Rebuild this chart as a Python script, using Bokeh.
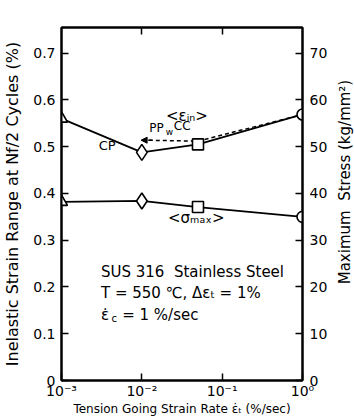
import math
from bokeh.plotting import figure
from bokeh.layouts import row
from bokeh.models import Range1d, LinearAxis, LogAxis, FixedTicker, Label, ColumnDataSource, Arrow, NormalHead
from bokeh.embed import file_html
from bokeh.resources import INLINE

# ---- data ----
rates = [1e-3, 1e-2, 5e-2, 1.0]
markers = ["triangle", "diamond", "square", "circle"]
strain_range = [0.560, 0.488, 0.505, 0.569]
max_stress = [38.2, 38.4, 37.1, 35.0]
pp_rates = [1e-2, 5e-2, 1e-1, 1.0]
pp_strain = [0.514, 0.512, 0.525, 0.569]

x_ticks = [1e-3, 1e-2, 1e-1, 1.0]
x_tick_labels = ["10⁻³", "10⁻²", "10⁻¹", "10⁰"]
left_ticks = [0, 0.1, 0.2, 0.3, 0.4, 0.5, 0.6, 0.7]
left_tick_labels = ["0", "0.1", "0.2", "0.3", "0.4", "0.5", "0.6", "0.7"]
right_ticks = [0, 10, 20, 30, 40, 50, 60, 70]
right_tick_labels = ["0", "10", "20", "30", "40", "50", "60", "70"]

# marker sizes (style)
marker_sizes = [12, 16, 11, 11]

FONT = "DejaVu Sans"
NB = "\u00a0"

p = figure(width=336, height=418, x_axis_type="log",
           x_range=Range1d(1e-3, 1.0), y_range=Range1d(0, 0.755),
           output_backend="svg", toolbar_location=None,
           min_border_left=59, min_border_right=34, min_border_top=27, min_border_bottom=36)
p.extra_y_ranges = {"stress": Range1d(0, 75.5)}
p.xgrid.visible = False
p.ygrid.visible = False
p.outline_line_color = "black"
p.outline_line_width = 2
p.background_fill_color = "white"
p.border_fill_color = "white"


def style_axis(ax):
    ax.axis_line_color = "black"
    ax.axis_line_width = 2
    ax.major_tick_in = 7
    ax.major_tick_out = 0
    ax.major_tick_line_width = 1.5
    ax.major_tick_line_color = "black"
    ax.minor_tick_line_color = None
    ax.major_label_text_font = FONT
    ax.major_label_text_font_size = "14px"
    ax.major_label_text_color = "black"
    ax.axis_label_text_font = FONT
    ax.axis_label_text_font_size = "12px"
    ax.axis_label_text_font_style = "normal"
    ax.axis_label_text_color = "black"


xa = p.xaxis[0]
style_axis(xa)
xa.ticker = FixedTicker(ticks=x_ticks)
xa.major_label_overrides = {t: l for t, l in zip(x_ticks, x_tick_labels)}
xa.major_label_standoff = 2
xa.axis_label = "Tension Going Strain Rate ε̇ₜ (%/sec)"
xa.axis_label_standoff = 0

ya = p.yaxis[0]
style_axis(ya)
ya.ticker = FixedTicker(ticks=left_ticks)
ya.major_label_overrides = {t: l for t, l in zip(left_ticks, left_tick_labels)}
ya.major_label_standoff = 6
ya.axis_label = "Inelastic" + NB + "Strain" + NB + "Range" + NB + "at" + NB + "Nf/2" + NB + "Cycles" + NB + "(%)"
ya.axis_label_text_font_size = "16px"
ya.axis_label_standoff = 8

ra = LinearAxis(y_range_name="stress", ticker=FixedTicker(ticks=right_ticks))
style_axis(ra)
ra.major_label_overrides = {t: l for t, l in zip(right_ticks, right_tick_labels)}
ra.major_label_standoff = 7
p.add_layout(ra, "right")

ta = LogAxis(ticker=FixedTicker(ticks=[1e-2, 1e-1]))
style_axis(ta)
ta.major_label_text_alpha = 0
p.add_layout(ta, "above")

# series
src_strain = ColumnDataSource(dict(x=rates, y=strain_range, m=markers, s=marker_sizes))
src_stress = ColumnDataSource(dict(x=rates, y=max_stress, m=markers, s=marker_sizes))

p.line(pp_rates, pp_strain, line_color="black", line_width=1.5, line_dash="4 3")
p.add_layout(Arrow(end=NormalHead(size=6, fill_color="black", line_color="black"),
                   x_start=pp_rates[0] * 1.35, y_start=pp_strain[0],
                   x_end=pp_rates[0] * 0.98, y_end=pp_strain[0],
                   line_color="black", line_width=1.5, line_dash="4 3"))
p.line("x", "y", source=src_strain, line_color="black", line_width=1.8)
p.scatter("x", "y", source=src_strain, marker="m", size="s", fill_color="white",
          line_color="black", line_width=1.6)
p.line("x", "y", source=src_stress, y_range_name="stress", line_color="black", line_width=1.8)
p.scatter("x", "y", source=src_stress, y_range_name="stress", marker="m", size="s",
          fill_color="white", line_color="black", line_width=1.6)

# annotations
def lab(x, y, text, size="12px", **kw):
    p.add_layout(Label(x=x, y=y, text=text, text_font=FONT, text_font_size=size,
                       text_color="black", text_baseline="middle", **kw))

lab(0.0200, 0.565, "<εᵢₙ>", "15px")
lab(0.0124, 0.540, "PP", "12px")
lab(0.0198, 0.531, "w", "9px")
lab(0.0250, 0.545, "CC", "12px")
lab(0.0029, 0.503, "CP", "13px")
lab(0.0212, 0.348, "<σₘₐₓ>", "15px")
lab(0.0031, 0.232, "SUS" + NB + "316" + NB + NB + "Stainless" + NB + "Steel", "15px")
lab(0.0031, 0.187, "T = 550 ℃, Δεₜ = 1%", "15px")
lab(0.0031, 0.141, "ε̇", "15px")
lab(0.0042, 0.132, "c", "10px")
lab(0.0057, 0.141, "= 1 %/sec", "15px")

# narrow strip holding the right-hand axis title (reads bottom to top)
side = figure(width=18, height=418, x_range=Range1d(0, 1), y_range=Range1d(0, 418),
              output_backend="svg", toolbar_location=None, min_border=0,
              x_axis_location=None, y_axis_location=None)
side.outline_line_color = None
side.grid.visible = False
side.background_fill_color = "white"
side.border_fill_color = "white"
side.add_layout(Label(x=0.45, y=235, text="Maximum" + NB + NB + "Stress" + NB + "(kg/mm²)",
                      angle=math.pi / 2, text_align="center", text_baseline="middle",
                      text_font=FONT, text_font_size="15px", text_color="black"))

layout = row(p, side, spacing=0)
open("out.html", "w").write(file_html(layout, INLINE))
